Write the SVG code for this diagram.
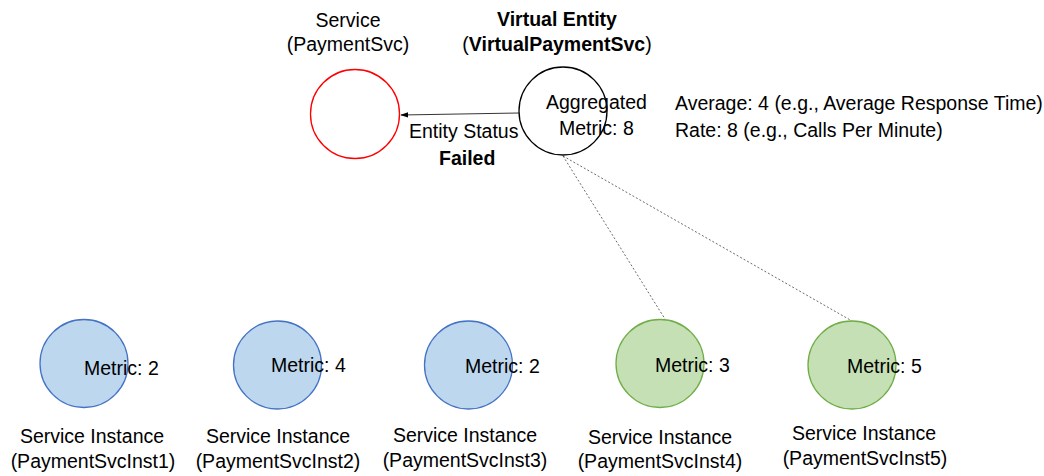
<svg xmlns="http://www.w3.org/2000/svg" width="1044" height="476" viewBox="0 0 1044 476">
  <style>
    text { font-family: "Liberation Sans", Arial, sans-serif; font-size: 19.5px; fill: #000; }
    .b { font-weight: bold; }
    .mid { text-anchor: middle; }
    .inst { fill: #BDD7EE; stroke: #4472C4; stroke-width: 1.3; }
    .inst-ok { fill: #C5E0B4; stroke: #70AD47; stroke-width: 1.3; }
    .svc { fill: #FFFFFF; stroke: #FF0000; stroke-width: 1.3; }
    .virt { fill: #FFFFFF; stroke: #000000; stroke-width: 1.3; }
    .link { stroke: #000; stroke-width: 0.8; fill: none; }
    .dot { stroke: #444; stroke-width: 0.8; stroke-dasharray: 2 2; fill: none; }
  </style>
  <defs>
    <marker id="arrow" viewBox="0 0 10 10" refX="9" refY="5" markerWidth="8" markerHeight="8" markerUnits="userSpaceOnUse" orient="auto">
      <path d="M0,1.5 L10,5 L0,8.5 z" fill="#000"/>
    </marker>
  </defs>
  <rect width="1044" height="476" fill="#FFFFFF"/>

  <!-- connectors -->
  <g id="connectors">
    <line class="link" x1="519" y1="113" x2="401" y2="115" marker-end="url(#arrow)"/>
    <line class="dot" x1="563" y1="156" x2="665" y2="319"/>
    <line class="dot" x1="563" y1="156" x2="852" y2="321"/>
  </g>

  <!-- service -->
  <g id="service">
    <text class="mid" x="348" y="27">Service</text>
    <text class="mid" x="348" y="51">(PaymentSvc)</text>
    <circle class="svc" cx="355" cy="114" r="44.5"/>
  </g>

  <!-- virtual entity -->
  <g id="virtual-entity">
    <text class="mid b" x="557" y="26">Virtual Entity</text>
    <text class="mid" x="557" y="51">(<tspan class="b">VirtualPaymentSvc</tspan>)</text>
    <circle class="virt" cx="563" cy="111" r="44"/>
    <text x="546" y="109">Aggregated</text>
    <text x="559" y="135">Metric: 8</text>
  </g>

  <g id="status-label">
    <text x="409" y="138">Entity Status</text>
    <text class="b" x="439" y="165">Failed</text>
  </g>

  <g id="aggregation-note">
    <text x="675" y="110">Average: 4 (e.g., Average Response Time)</text>
    <text x="675" y="137">Rate: 8 (e.g., Calls Per Minute)</text>
  </g>

  <!-- service instances -->
  <g id="inst1">
    <circle class="inst" cx="84" cy="363.5" r="44"/>
    <text x="84" y="375">Metric: 2</text>
    <text class="mid" x="92" y="443">Service Instance</text>
    <text class="mid" x="93" y="468">(PaymentSvcInst1)</text>
  </g>
  <g id="inst2">
    <circle class="inst" cx="277.5" cy="365" r="44"/>
    <text x="271" y="372">Metric: 4</text>
    <text class="mid" x="278" y="443">Service Instance</text>
    <text class="mid" x="278" y="468">(PaymentSvcInst2)</text>
  </g>
  <g id="inst3">
    <circle class="inst" cx="468.5" cy="365" r="44"/>
    <text x="465" y="373">Metric: 2</text>
    <text class="mid" x="465" y="442">Service Instance</text>
    <text class="mid" x="465" y="467">(PaymentSvcInst3)</text>
  </g>
  <g id="inst4">
    <circle class="inst-ok" cx="660" cy="363.5" r="44"/>
    <text x="655" y="372">Metric: 3</text>
    <text class="mid" x="660" y="444">Service Instance</text>
    <text class="mid" x="660" y="468">(PaymentSvcInst4)</text>
  </g>
  <g id="inst5">
    <circle class="inst-ok" cx="852" cy="365" r="44"/>
    <text x="847" y="373">Metric: 5</text>
    <text class="mid" x="864" y="440">Service Instance</text>
    <text class="mid" x="865" y="465">(PaymentSvcInst5)</text>
  </g>
</svg>
